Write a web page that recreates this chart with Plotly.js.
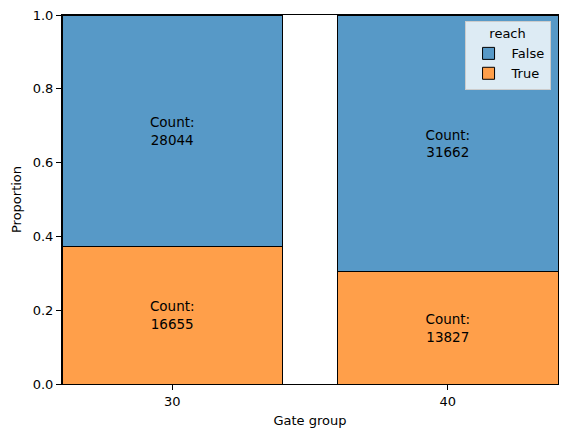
<!DOCTYPE html>
<html><head><meta charset="utf-8">
<script src="https://cdn.plot.ly/plotly-3.0.1.min.js"></script>
<style>html,body{margin:0;padding:0;background:#fff}</style>
</head><body>
<div id="chart" style="width:567px;height:437px"></div>
<script>
const gateGroups = [30, 40];
const countFalse = [28044, 31662];
const countTrue = [16655, 13827];
const totals = gateGroups.map((g, i) => countFalse[i] + countTrue[i]);
const propFalse = countFalse.map((c, i) => c / totals[i]);
const propTrue = countTrue.map((c, i) => c / totals[i]);

const font = {family: 'DejaVu Sans', size: 13, color: '#000'};
const common = {
  type: 'bar', x: gateGroups, width: 8,
  textposition: 'inside', insidetextanchor: 'middle', textangle: 0,
  textfont: {family: 'DejaVu Sans', size: 13.5, color: '#000'},
  constraintext: 'none', hoverinfo: 'skip'
};
const traces = [
  Object.assign({}, common, {
    name: 'True', y: propTrue,
    text: countTrue.map(c => 'Count:<br>' + c),
    marker: {color: 'rgb(255,159,74)', line: {color: '#000', width: 1}}
  }),
  Object.assign({}, common, {
    name: 'False', y: propFalse,
    text: countFalse.map(c => 'Count:<br>' + c),
    marker: {color: 'rgb(87,153,199)', line: {color: '#000', width: 1}}
  })
];

const layout = {
  width: 567, height: 437,
  margin: {l: 62, r: 9, t: 15, b: 53},
  barmode: 'stack', bargap: 0,
  paper_bgcolor: '#fff', plot_bgcolor: '#fff',
  font: font,
  xaxis: {
    range: [26, 44], tickvals: gateGroups, ticktext: gateGroups.map(String),
    showgrid: false, zeroline: false, showline: true, linecolor: '#000', linewidth: 1, mirror: true,
    ticks: 'outside', ticklen: 5, tickcolor: '#000',
    title: {text: 'Gate group', font: font, standoff: 8}
  },
  yaxis: {
    range: [0, 1], tickvals: [0, 0.2, 0.4, 0.6, 0.8, 1.0],
    ticktext: ['0.0', '0.2', '0.4', '0.6', '0.8', '1.0'],
    showgrid: false, zeroline: false, showline: true, linecolor: '#000', linewidth: 1, mirror: true,
    ticks: 'outside', ticklen: 5, tickcolor: '#000',
    title: {text: 'Proportion', font: font, standoff: 8}
  },
  legend: {
    x: 0.985, y: 0.985, xanchor: 'right', yanchor: 'top',
    bgcolor: 'rgba(255,255,255,0.8)', bordercolor: '#cccccc', borderwidth: 1,
    traceorder: 'reversed', font: font, itemwidth: 36,
    title: {text: 'reach', side: 'top center', font: font}
  },
  showlegend: true
};
Plotly.newPlot('chart', traces, layout, {displayModeBar: false, staticPlot: true});
</script>
</body></html>
